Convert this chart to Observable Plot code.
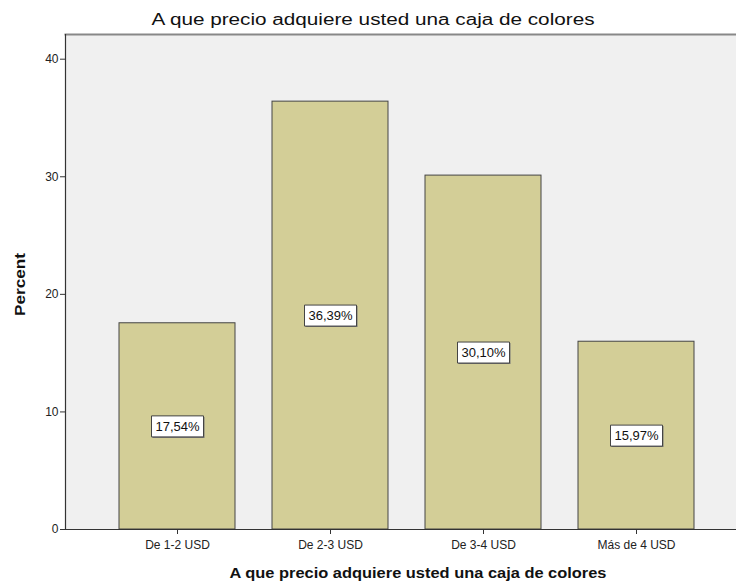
<!DOCTYPE html>
<html>
<head>
<meta charset="utf-8">
<script src="https://cdn.jsdelivr.net/npm/d3@7"></script>
<script src="https://cdn.jsdelivr.net/npm/@observablehq/plot@0.6"></script>
<style>
  body { margin: 0; background: #fff; }
  svg { font-family: "Liberation Sans", Arial, sans-serif; }
</style>
</head>
<body>
<div id="chart"></div>
<script>
const categories = ["De 1-2 USD", "De 2-3 USD", "De 3-4 USD", "Más de 4 USD"];
const percents = [17.54, 36.39, 30.10, 15.97];
const percentLabels = ["17,54%", "36,39%", "30,10%", "15,97%"];
const yTicks = [0, 10, 20, 30, 40];
const title = "A que precio adquiere usted una caja de colores";
const xTitle = "A que precio adquiere usted una caja de colores";
const yTitle = "Percent";

const data = categories.map((c, i) => ({cat: c, value: percents[i], label: percentLabels[i], mid: percents[i] / 2}));

const boxSymbol = { draw(ctx, size) { ctx.rect(-26, -10.5, 52, 21); } };
const shadowSymbol = { draw(ctx, size) { ctx.rect(-25, -9.5, 52, 21); } };

const W = 736, H = 586, ML = 65, MT = 34, MB = 57;

const chart = Plot.plot({
  width: W,
  height: H,
  marginLeft: ML,
  marginRight: 0,
  marginTop: MT,
  marginBottom: MB,
  style: {fontFamily: "'Liberation Sans', Arial, sans-serif", fontSize: "12px", color: "#222", background: "#fff"},
  x: {type: "band", domain: categories, range: [ML, 747], paddingInner: 0.244, paddingOuter: 0.343, label: null},
  y: {domain: [0, 42.1], label: null},
  marks: [
    Plot.frame({fill: "#f0f0f0", stroke: null}),
    Plot.barY(data, {x: "cat", y: "value", fill: "#d3ce97", stroke: "#444", strokeWidth: 1}),
    Plot.dot(data, {x: "cat", y: "mid", symbol: shadowSymbol, r: 5, fill: "#777", stroke: null}),
    Plot.dot(data, {x: "cat", y: "mid", symbol: boxSymbol, r: 5, fill: "#fff", stroke: "#444", strokeWidth: 1}),
    Plot.text(data, {x: "cat", y: "mid", text: "label", fill: "#111", fontSize: 13}),
    Plot.frame({anchor: "top", stroke: "#888", strokeWidth: 2}),
    Plot.frame({anchor: "left", stroke: "#333", strokeWidth: 1.2}),
    Plot.frame({anchor: "bottom", stroke: "#333", strokeWidth: 1.2}),
    Plot.axisY({ticks: yTicks, tickSize: 5, tickPadding: 2, tickFormat: d => String(d), fontSize: 12, stroke: "#333", label: null}),
    Plot.axisX({tickSize: 5, tickPadding: 6, fontSize: 12, stroke: "#333", label: null})
  ]
});

const svg = d3.select(chart);
svg.append("text")
  .attr("x", 373).attr("y", 25)
  .attr("text-anchor", "middle")
  .attr("font-size", 16)
  .attr("fill", "#111")
  .attr("textLength", 443)
  .attr("lengthAdjust", "spacingAndGlyphs")
  .text(title);
svg.append("text")
  .attr("x", 418).attr("y", 578)
  .attr("text-anchor", "middle")
  .attr("font-size", 15)
  .attr("font-weight", "bold")
  .attr("fill", "#111")
  .attr("textLength", 377)
  .attr("lengthAdjust", "spacingAndGlyphs")
  .text(xTitle);
svg.append("text")
  .attr("transform", "translate(24.5,284.5) rotate(-90)")
  .attr("text-anchor", "middle")
  .attr("font-size", 14)
  .attr("font-weight", "bold")
  .attr("fill", "#111")
  .attr("textLength", 63)
  .attr("lengthAdjust", "spacingAndGlyphs")
  .text(yTitle);

document.getElementById("chart").appendChild(chart);
</script>
</body>
</html>
